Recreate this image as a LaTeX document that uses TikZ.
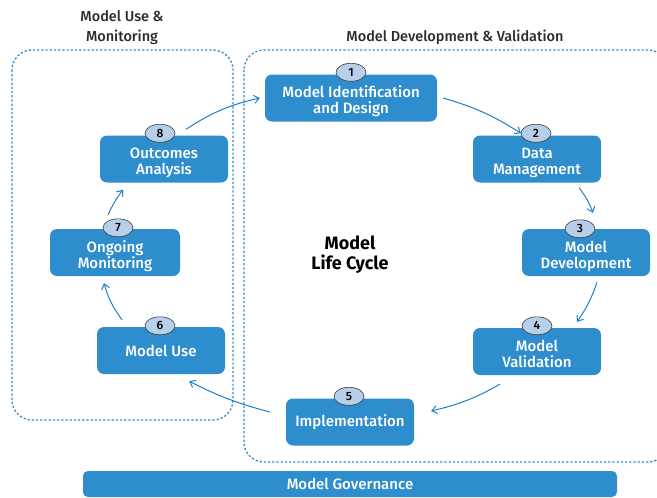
\documentclass[tikz,border=0pt]{standalone}
\usepackage{fontspec}
\setmainfont{Fira Sans}
\newfontfamily\medfont{Fira Sans Medium}
\usetikzlibrary{arrows.meta,shapes.geometric}
\definecolor{cStageF}{HTML}{2E8DCD}
\definecolor{cArrowD}{HTML}{1F7EC4}
\definecolor{cZoneD}{HTML}{2C8ED0}
\definecolor{cBadgeF}{HTML}{B8CFEA}
\definecolor{cBadgeD}{HTML}{3A3A3A}
\definecolor{cTitleT}{HTML}{2B2B2B}
\tikzset{
  stage/.style  = {rounded corners=7pt, fill=cStageF, text=white, align=center,
                   font=\medfont\fontsize{15}{16}\selectfont, minimum width=128pt,
                   minimum height=47pt, inner sep=2pt},
  stagetwo/.style = {stage, text height=35pt, text depth=4pt},
  badge/.style  = {ellipse, draw=cBadgeD, fill=cBadgeF, line width=0.6pt,
                   minimum width=30pt, minimum height=18pt, inner sep=0pt,
                   text=black, font=\medfont\fontsize{12}{12}\selectfont},
  zone/.style   = {cZoneD, line width=1.3pt, dash pattern=on 2.2pt off 2pt,
                   rounded corners=20pt},
  title/.style  = {text=cTitleT, align=center, font=\medfont\fontsize{14.5}{20}\selectfont},
  flow/.style   = {cArrowD, line width=1pt, -{Straight Barb[length=5pt,width=8pt]}},
}
\begin{document}
\begin{tikzpicture}[x=1pt,y=-1pt]
  \useasboundingbox (0,0) rectangle (657,498);
  % dotted zones
  \draw[zone] (12,50) rectangle (233,420);
  \draw[zone] (244,50) rectangle (668,462);
  \node[title] (tuse) at (122,28) {Model Use \&\\Monitoring};
  \node[title] (tdev) at (455,37) {Model Development \& Validation};
  \node[font=\fontsize{18}{20}\selectfont\bfseries, align=center] (life) at (350,255) {Model\\Life Cycle};
  % stages
  \node[stagetwo, minimum width=172pt] (s1) at (351,98) {Model Identification\\and Design};
  \node[stagetwo] (s2) at (537,159) {Data\\Management};
  \node[stagetwo] (s3) at (586,252.5) {Model\\Development};
  \node[stagetwo] (s4) at (537,351.5) {Model\\Validation};
  \node[stage] (s5) at (350,422) {Implementation};
  \node[stage] (s6) at (161,350.5) {Model Use};
  \node[stagetwo, minimum width=130pt] (s7) at (115,252.5) {Ongoing\\Monitoring};
  \node[stagetwo] (s8) at (164,159) {Outcomes\\Analysis};
  \node[stage, minimum width=534pt, minimum height=26pt, rounded corners=5pt] (gov) at (350,484) {Model Governance};
  % number badges
  \node[badge] (b1) at ([yshift=2pt]s1.north) {1};
  \node[badge] (b2) at ([yshift=2pt,xshift=-1pt]s2.north) {2};
  \node[badge] (b3) at ([yshift=0pt,xshift=-6pt]s3.north) {3};
  \node[badge] (b4) at ([yshift=2pt]s4.north) {4};
  \node[badge] (b5) at ([yshift=2pt,xshift=-1pt]s5.north) {5};
  \node[badge] (b6) at ([yshift=1pt,xshift=-1pt]s6.north) {6};
  \node[badge] (b7) at ([yshift=1pt,xshift=3pt]s7.north) {7};
  \node[badge] (b8) at ([yshift=2pt,xshift=-4pt]s8.north) {8};
  % cycle arrows
  \draw[flow] ([xshift=22pt,yshift=6pt]s8.north) to[bend left=10] ([xshift=-5pt]s1.west);
  \draw[flow] ([xshift=6pt]s1.east) to[bend left=8] ([xshift=-16pt,yshift=2pt]s2.north);
  \draw[flow] ([xshift=42pt,yshift=-5pt]s2.south) to[bend left=8] ([xshift=7pt,yshift=16pt]s3.north);
  \draw[flow] ([xshift=11pt,yshift=-6pt]s3.south) to[bend left=8] ([xshift=40pt,yshift=6pt]s4.north);
  \draw[flow] ([xshift=-37pt,yshift=-9pt]s4.south) to[bend left=8] ([xshift=17pt,yshift=11pt]s5.east);
  \draw[flow] ([xshift=-16pt,yshift=10pt]s5.west) to[bend left=6] ([xshift=-36pt,yshift=-7pt]s6.south east);
  \draw[flow] ([xshift=-39pt,yshift=7pt]s6.north) to[bend left=10] ([xshift=-11pt,yshift=-7pt]s7.south);
  \draw[flow] ([xshift=-7pt,yshift=14pt]s7.north) to[bend left=6] ([xshift=-41pt,yshift=-7pt]s8.south);
\end{tikzpicture}
\end{document}
